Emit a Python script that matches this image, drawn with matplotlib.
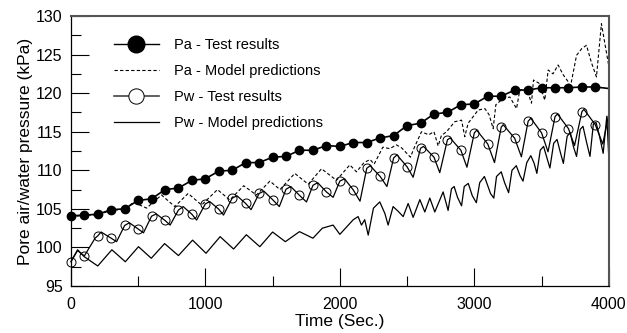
import matplotlib
matplotlib.use("Agg")
import matplotlib.pyplot as plt
from matplotlib.lines import Line2D
from matplotlib.ticker import MultipleLocator

plt.rcParams['font.family'] = ['Liberation Sans', 'DejaVu Sans']

# Pa - test results (markers every 100 s, line continues to 4000 s)
pa_test_t = [0, 100, 200, 300, 400, 500, 600, 700, 800, 900, 1000, 1100, 1200, 1300,
             1400, 1500, 1600, 1700, 1800, 1900, 2000, 2100, 2200, 2300, 2400, 2500,
             2600, 2700, 2800, 2900, 3000, 3100, 3200, 3300, 3400, 3500, 3600, 3700,
             3800, 3900]
pa_test_p = [104.1, 104.2, 104.3, 104.9, 105.0, 106.1, 106.3, 107.5, 107.7, 108.7,
             108.9, 109.9, 110.0, 111.0, 111.0, 111.7, 111.8, 112.6, 112.6, 113.2,
             113.1, 113.6, 113.6, 114.2, 114.5, 115.8, 116.1, 117.3, 117.5, 118.5,
             118.6, 119.6, 119.6, 120.4, 120.4, 120.7, 120.7, 120.7, 120.8, 120.8]
pa_test_end_t = [3900, 4000]
pa_test_end_p = [120.8, 120.6]

# Pa - model predictions (dashed)
pa_model_t = [0, 100, 200, 300, 400, 470, 500, 563, 674, 773, 872, 972, 1090, 1182,
              1285, 1380, 1480, 1555, 1665, 1765, 1864, 1975, 2074, 2124, 2180, 2225,
              2255, 2320, 2372, 2420, 2460, 2525, 2550, 2607, 2660, 2700, 2731, 2755,
              2793, 2855, 2905, 2929, 2954, 3028, 3078, 3110, 3140, 3160, 3214, 3264,
              3314, 3338, 3388, 3410, 3425, 3440, 3480, 3524, 3549, 3585, 3623, 3660,
              3697, 3712, 3760, 3800, 3834, 3870, 3908, 3945, 4000]
pa_model_p = [104.0, 104.15, 104.25, 104.8, 104.95, 105.9, 105.6, 105.1, 106.8, 105.3,
              107.0, 105.5, 107.5, 106.15, 108.0, 106.8, 108.6, 107.5, 109.6, 108.2,
              110.2, 108.7, 110.7, 109.8, 111.0, 111.4, 110.8, 113.0, 112.8, 113.3,
              112.9, 111.7, 112.8, 115.0, 114.6, 115.0, 113.15, 114.5, 115.0, 116.3,
              116.5, 114.35, 116.1, 117.8, 118.0, 117.2, 115.4, 118.5, 119.3, 119.5,
              118.0, 120.4, 120.6, 119.5, 118.7, 121.7, 121.3, 119.1, 123.0, 122.5,
              123.65, 122.4, 121.5, 120.6, 124.9, 125.8, 126.2, 124.0, 122.1, 129.0,
              123.5]

# Pw - test results (circle markers every 100 s)
pw_circ_t = pa_test_t
pw_circ_p = [98.15, 98.9, 101.5, 101.2, 102.85, 102.4, 104.05, 103.5, 104.85, 104.3,
             105.65, 104.95, 106.4, 105.7, 107.0, 106.2, 107.55, 106.75, 108.05, 107.2,
             108.6, 107.45, 110.25, 109.2, 111.6, 110.45, 112.85, 111.7, 113.95, 112.6,
             114.85, 113.4, 115.6, 114.15, 116.35, 114.85, 116.95, 115.4, 117.6, 115.9]
# Pw - test results (measured curve through the circles)
pw_line_t = [0, 50, 100, 180, 200, 225, 300, 340, 400, 435, 500, 540, 600, 635, 700,
             738, 800, 835, 900, 935, 1000, 1033, 1100, 1135, 1200, 1235, 1300, 1340,
             1400, 1435, 1500, 1550, 1600, 1635, 1700, 1752, 1800, 1835, 1900, 1950,
             2000, 2035, 2100, 2150, 2200, 2225, 2300, 2350, 2400, 2425, 2500, 2545,
             2600, 2622, 2700, 2743, 2800, 2820, 2900, 2945, 3000, 3018, 3100, 3150,
             3200, 3215, 3300, 3350, 3400, 3420, 3500, 3548, 3600, 3618, 3700, 3745,
             3800, 3815, 3900, 3955, 4000]
pw_line_p = [98.15, 99.6, 98.9, 101.2, 101.5, 102.0, 101.2, 100.75, 102.85, 103.2,
             102.4, 101.9, 104.05, 104.35, 103.5, 102.9, 104.85, 105.3, 104.3, 103.55,
             105.65, 105.95, 104.95, 104.2, 106.4, 106.7, 105.7, 104.9, 107.0, 107.3,
             106.2, 105.3, 107.55, 107.9, 106.75, 105.9, 108.05, 108.4, 107.2, 106.5,
             108.6, 108.9, 107.45, 106.0, 110.25, 110.6, 109.2, 107.9, 111.6, 112.0,
             110.45, 109.1, 112.85, 113.1, 111.7, 109.7, 113.95, 114.2, 112.6, 110.4,
             114.85, 115.2, 113.4, 111.0, 115.6, 115.9, 114.15, 111.75, 116.35, 116.75,
             114.85, 112.4, 116.95, 117.3, 115.4, 113.2, 117.6, 117.9, 115.9, 113.4,
             117.3]

# Pw - model predictions (solid)
pw_model_t = [0, 50, 100, 200, 305, 405, 503, 598, 697, 800, 905, 1005, 1110, 1210,
              1305, 1405, 1500, 1595, 1700, 1800, 1870, 1950, 2000, 2100, 2136, 2161,
              2185, 2211, 2250, 2297, 2335, 2359, 2396, 2433, 2471, 2508, 2545, 2595,
              2632, 2669, 2706, 2768, 2805, 2830, 2850, 2875, 2905, 2925, 2955, 2985,
              3015, 3040, 3075, 3100, 3120, 3145, 3165, 3200, 3225, 3255, 3280, 3312,
              3340, 3362, 3390, 3420, 3445, 3465, 3490, 3515, 3540, 3562, 3590, 3615,
              3640, 3662, 3690, 3712, 3738, 3760, 3787, 3808, 3835, 3860, 3885, 3905,
              3930, 3958, 3985, 4000]
pw_model_p = [98.15, 99.7, 98.8, 97.6, 99.7, 98.15, 100.1, 98.6, 100.5, 98.95, 100.95,
              99.25, 101.4, 99.8, 101.65, 100.1, 102.0, 100.75, 102.05, 101.2, 102.5,
              102.9, 101.7, 103.6, 104.0, 102.9, 103.6, 101.6, 105.1, 105.9, 104.4,
              102.9, 105.3, 104.7, 104.0, 105.7, 103.9, 106.2, 104.6, 106.4, 104.6,
              107.2, 104.8, 107.6, 107.9, 106.5, 105.4, 107.9, 108.3, 106.7, 105.8,
              108.4, 109.2, 108.0, 107.0, 106.4, 109.2, 109.8, 108.4, 107.1, 110.0,
              110.6, 109.3, 108.6, 111.0, 111.9, 110.9, 109.6, 112.6, 113.1, 111.6,
              110.3, 113.5, 114.0, 112.3, 110.9, 114.4, 114.9, 113.0, 111.8, 115.3,
              115.7, 113.6, 111.8, 116.0, 116.2, 114.5, 112.2, 117.0, 111.6]

fig, ax = plt.subplots(figsize=(6.27, 3.33), dpi=100)
fig.subplots_adjust(left=0.113, right=0.971, top=0.952, bottom=0.141)

ax.plot(pw_model_t, pw_model_p, color='black', lw=0.9)
ax.plot(pa_model_t, pa_model_p, color='black', lw=0.8, ls=(0, (3, 2)))
ax.plot(pw_line_t, pw_line_p, color='black', lw=0.9, clip_on=False)
ax.plot(pw_circ_t, pw_circ_p, ls='none', marker='o', ms=6.5, mfc='none',
        mec='black', mew=0.7, clip_on=False)
ax.plot(pa_test_end_t, pa_test_end_p, color='black', lw=1.2)
ax.plot(pa_test_t, pa_test_p, color='black', lw=1.2, marker='o', ms=6,
        mfc='black', mec='black', clip_on=False)

ax.set_xlim(0, 4000)
ax.set_ylim(95, 130)
ax.xaxis.set_major_locator(MultipleLocator(1000))
ax.xaxis.set_minor_locator(MultipleLocator(500))
ax.yaxis.set_major_locator(MultipleLocator(5))
ax.yaxis.set_minor_locator(MultipleLocator(2.5))
ax.tick_params(which='both', direction='in', top=False, right=False, labelsize=11.5)
ax.tick_params(which='major', length=13, width=0.8, pad=6)
ax.tick_params(which='minor', length=7, width=0.8)
ax.tick_params(axis='x', which='major', pad=8)
for side in ['left', 'bottom']:
    ax.spines[side].set_linewidth(0.9)
for side in ['top', 'right']:
    ax.spines[side].set_color('#555555')
    ax.spines[side].set_linewidth(1.5)

ax.set_xlabel('Time (Sec.)', fontsize=12.5, labelpad=1)
ax.set_ylabel('Pore air/water pressure (kPa)', fontsize=12.5, labelpad=2)

handles = [
    Line2D([], [], color='black', lw=1, marker='o', ms=12, mfc='black'),
    Line2D([], [], color='black', lw=0.8, ls=(0, (3, 2))),
    Line2D([], [], color='#444444', lw=1.2, marker='o', ms=11, mfc='white', mec='black', mew=0.7),
    Line2D([], [], color='black', lw=0.9),
]
labels = ['Pa - Test results', 'Pa - Model predictions',
          'Pw - Test results', 'Pw - Model predictions']
ax.legend(handles, labels, loc='upper left', bbox_to_anchor=(0.055, 0.968), frameon=False,
          fontsize=10.5, handlelength=3.1, handletextpad=1.05, labelspacing=0.83)

fig.savefig('out.png', dpi=100)
